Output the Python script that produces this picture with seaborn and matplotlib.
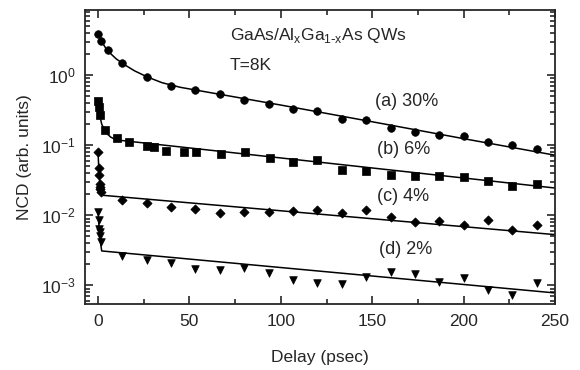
import numpy as np
import pandas as pd
import seaborn as sns
import matplotlib.pyplot as plt
from matplotlib.ticker import MultipleLocator, LogLocator, NullFormatter

# measured points (delay in psec, NCD in arb. units)
t_a = [0, 1.7, 5.2, 13.3, 26.7, 40, 53.3, 66.7, 80, 93.3, 106.7, 120, 133.3,
       146.7, 160, 173.3, 186.7, 200, 213.3, 226.7, 240]
ncd_a = [3.8, 3.1, 2.28, 1.47, 0.94, 0.70, 0.62, 0.53, 0.444, 0.381, 0.33, 0.309,
         0.233, 0.228, 0.177, 0.155, 0.138, 0.134, 0.111, 0.102, 0.0886]

t_b = [0, 0.4, 0.8, 3.7, 10.5, 16.8, 26.9, 30.5, 37, 46.8, 53.6, 67.2, 80.5, 93.8,
       106.7, 120, 133.3, 146.7, 160, 173.3, 186.7, 200, 213.3, 226.7, 240]
ncd_b = [0.425, 0.349, 0.266, 0.166, 0.125, 0.110, 0.099, 0.0946, 0.084, 0.081,
         0.081, 0.0743, 0.080, 0.0667, 0.0577, 0.061, 0.045, 0.043, 0.0373, 0.0364,
         0.036, 0.0352, 0.0306, 0.026, 0.0277]

t_c = [0, 0.3, 0.5, 0.8, 1.0, 1.3, 1.6, 13.3, 26.7, 40, 53.3, 66.7, 80, 93.3, 106.7,
       120, 133.3, 146.7, 160, 173.3, 186.7, 200, 213.3, 226.7, 240]
ncd_c = [0.081, 0.048, 0.037, 0.0284, 0.0251, 0.0235, 0.0217, 0.0164, 0.0151, 0.0131,
         0.0125, 0.0108, 0.0111, 0.0111, 0.0115, 0.0118, 0.0109, 0.0118, 0.00946,
         0.00802, 0.0082, 0.00736, 0.00868, 0.0061, 0.0072]

t_d = [0, 0.3, 0.6, 0.9, 1.1, 1.5, 13.3, 26.7, 40, 53.3, 66.7, 80, 93.3, 106.7, 120,
       133.3, 146.7, 160, 173.3, 186.7, 200, 213.3, 226.7, 240]
ncd_d = [0.0111, 0.0087, 0.0064, 0.0057, 0.0050, 0.00416, 0.00260, 0.00228, 0.00211,
         0.00169, 0.00164, 0.00177, 0.0015, 0.00118, 0.00109, 0.00106, 0.00131,
         0.00155, 0.00147, 0.00111, 0.00127, 0.00085, 0.00072, 0.00108]

# fitted curves
fit_t_a = [0, 2, 5, 10, 15, 20, 27, 35, 45, 60, 100, 150, 200, 250]
fit_a = [3.8, 3.0, 2.25, 1.7, 1.38, 1.15, 0.94, 0.78, 0.67, 0.571, 0.374, 0.216, 0.124, 0.072]
fit_t_b = [0, 0.5, 1, 2, 3.5, 5, 7, 10, 250]
fit_b = [0.42, 0.33, 0.26, 0.2, 0.165, 0.145, 0.13, 0.119, 0.0245]
fit_t_c = [0, 0.5, 1, 1.5, 2.5, 250]
fit_c = [0.08, 0.04, 0.027, 0.022, 0.0193, 0.0053]
fit_t_d = [0, 0.5, 1, 1.5, 2, 250]
fit_d = [0.0111, 0.007, 0.0052, 0.0038, 0.0031, 0.00078]

labels = ['(a) 30%', '(b) 6%', '(c) 4%', '(d) 2%']
markers = ['o', 's', 'D', 'v']

sns.set_style('ticks')
plt.rcParams['font.family'] = ['Liberation Sans', 'DejaVu Sans']
plt.rcParams['xtick.direction'] = 'in'
plt.rcParams['ytick.direction'] = 'in'

fig = plt.figure(figsize=(5.8, 3.7), dpi=100)
ax = fig.add_axes([0.147, 0.178, 0.81, 0.795])

series = [(t_a, ncd_a, fit_t_a, fit_a), (t_b, ncd_b, fit_t_b, fit_b),
          (t_c, ncd_c, fit_t_c, fit_c), (t_d, ncd_d, fit_t_d, fit_d)]
for (t, y, ft, fy), m in zip(series, markers):
    size = 30 if m != 'D' else 22
    sns.scatterplot(x=t, y=y, marker=m, s=size, color='black', edgecolor='black',
                    linewidth=0.5, ax=ax, zorder=3)
    sns.lineplot(x=ft, y=fy, color='black', linewidth=1.1, sort=False, ax=ax)

ax.set_yscale('log')
ax.set_xlim(-7, 250)
ax.set_ylim(5.4e-4, 8.5)
ax.xaxis.set_major_locator(MultipleLocator(50))
ax.xaxis.set_minor_locator(MultipleLocator(25))
ax.yaxis.set_major_locator(LogLocator(base=10, numticks=10))
ax.yaxis.set_minor_locator(LogLocator(base=10, subs=np.arange(2, 10), numticks=10))
ax.yaxis.set_minor_formatter(NullFormatter())
ax.tick_params(which='both', top=True, right=True, labelsize=12.5, width=1.2)
ax.tick_params(which='major', length=6, pad=7)
ax.tick_params(which='minor', length=3.5)
for sp in ax.spines.values():
    sp.set_linewidth(1.3)
    sp.set_visible(True)

ax.set_xlabel('Delay (psec)', fontsize=12.5, labelpad=15)
ax.set_ylabel('NCD (arb. units)', fontsize=12.5, labelpad=6)

ax.text(0.308, 0.913, r'GaAs/Al$_\mathregular{x}$Ga$_\mathregular{1\text{-}x}$As QWs',
        transform=ax.transAxes, fontsize=12.5, va='center')
ax.text(0.308, 0.81, 'T=8K', transform=ax.transAxes, fontsize=12.5, va='center')
label_pos = [(0.617, 0.688), (0.62, 0.525), (0.62, 0.365), (0.625, 0.185)]
for lab, (px, py) in zip(labels, label_pos):
    ax.text(px, py, lab, transform=ax.transAxes, fontsize=13, va='center')

fig.savefig('out.png', dpi=100)
